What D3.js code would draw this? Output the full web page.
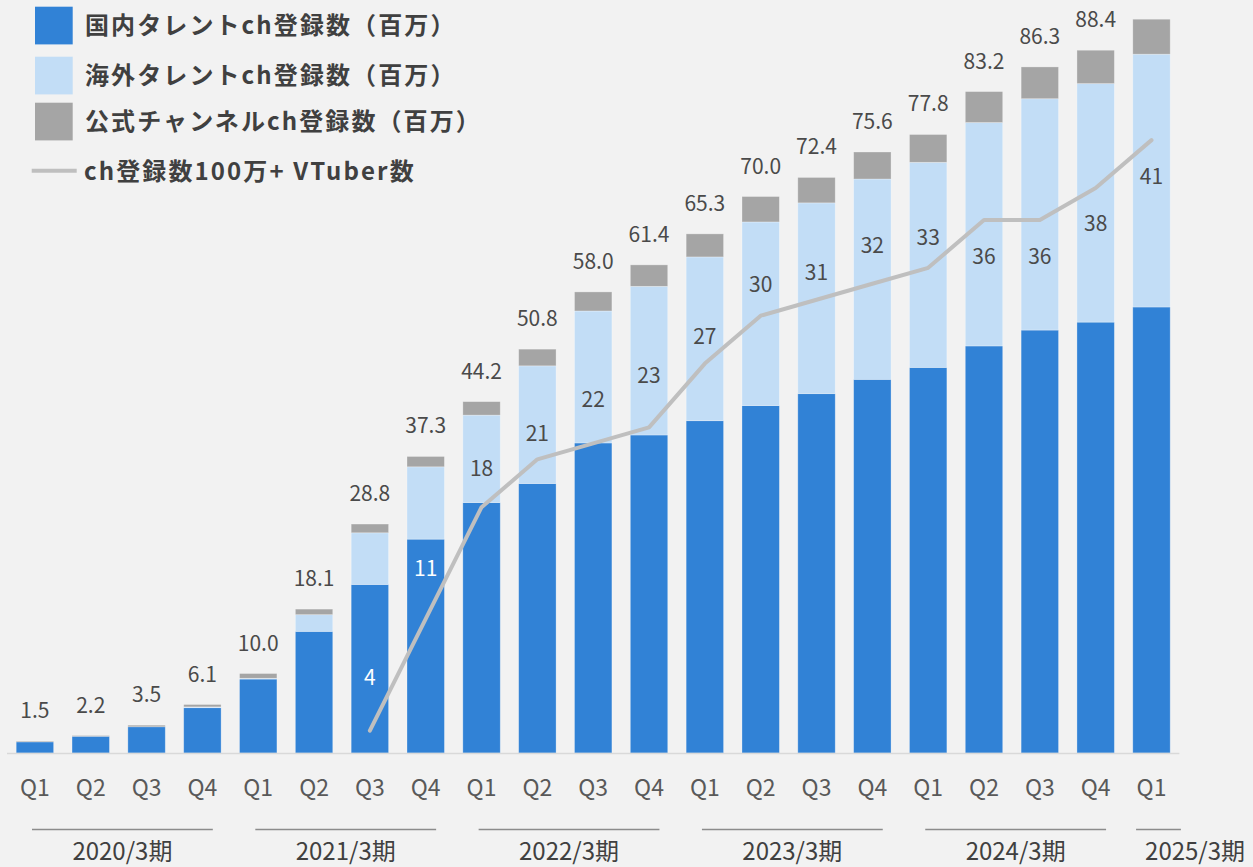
<!DOCTYPE html>
<html lang="ja">
<head>
<meta charset="utf-8">
<script src="https://cdn.jsdelivr.net/npm/d3@7"></script>
<style>
  html, body { margin: 0; padding: 0; background: #f2f2f2; }
  svg { display: block; }
  .num { font-family: "Noto Sans CJK JP", "Noto Sans", sans-serif; fill: #4a4a4a; }
  .legend { font-family: "Noto Sans CJK JP", "Noto Sans", sans-serif; font-weight: 700; fill: #404040; letter-spacing: 2.1px; }
</style>
</head>
<body>
<svg id="chart" width="1253" height="867"></svg>
<script>
// Quarterly subscriber data (millions) and 1M+ VTuber counts
const quarters = ["Q1","Q2","Q3","Q4","Q1","Q2","Q3","Q4","Q1","Q2","Q3","Q4",
                  "Q1","Q2","Q3","Q4","Q1","Q2","Q3","Q4","Q1"];
const fiscalYears = ["2020/3期","2021/3期","2022/3期","2023/3期","2024/3期","2025/3期"];
const domestic = [1.4, 2.1, 3.3, 5.7, 9.3, 15.3, 21.2, 26.9, 31.5, 33.9, 39.0, 40.0,
                  41.8, 43.7, 45.2, 47.0, 48.5, 51.2, 53.2, 54.2, 56.1];
const overseas = [0.0, 0.0, 0.0, 0.1, 0.1, 2.1, 6.5, 9.1, 11.0, 14.8, 16.6, 18.7,
                  20.6, 23.1, 24.0, 25.2, 25.8, 28.1, 29.1, 30.0, 31.8];
const official = [0.1, 0.1, 0.2, 0.3, 0.6, 0.7, 1.1, 1.3, 1.7, 2.1, 2.4, 2.7,
                  2.9, 3.2, 3.2, 3.4, 3.5, 3.9, 4.0, 4.2, 4.4];
const totalLabels = ["1.5","2.2","3.5","6.1","10.0","18.1","28.8","37.3","44.2","50.8","58.0","61.4",
                     "65.3","70.0","72.4","75.6","77.8","83.2","86.3","88.4",""];
// VTuber count starts at the 2021/3 Q3 quarter (index 6)
const vtuberStart = 6;
const vtubers = [4, 11, 18, 21, 22, 23, 27, 30, 31, 32, 33, 36, 36, 38, 41];
const seriesNames = ["国内タレントch登録数（百万）","海外タレントch登録数（百万）","公式チャンネルch登録数（百万）"];
const lineName = "ch登録数100万+ VTuber数";

// Layout: vertical nudges for the VTuber count labels (px from the line point)
const countLabelDy = [-53, -51, -39, -26, -44, -52, -27, -31, -27, -38, -30, 36, 36, 35, 36];

const colors = { domestic: "#3182d6", overseas: "#c2ddf6", official: "#a5a5a5", line: "#bfbfbf" };

const svg = d3.select("#chart");
const idx = d3.range(quarters.length);

const x = d3.scaleBand().domain(idx).range([7, 1179.4]).paddingInner(0.33).paddingOuter(0.165);
const y = d3.scaleLinear().domain([0, 100]).range([753, -42]);
const yLine = d3.scaleLinear().domain([0, 50]).range([794.5, -3.5]);

const rows = idx.map(i => ({ i, domestic: domestic[i], overseas: overseas[i], official: official[i] }));
const keys = ["domestic", "overseas", "official"];
const stacked = d3.stack().keys(keys)(rows);

// Stacked bars
const layers = svg.append("g").selectAll("g").data(stacked).join("g")
  .attr("fill", d => colors[d.key]);
layers.selectAll("rect").data(d => d).join("rect")
  .attr("x", d => x(d.data.i))
  .attr("width", x.bandwidth())
  .attr("y", d => y(d[1]))
  .attr("height", d => Math.max(0, y(d[0]) - y(d[1])))
  .attr("stroke", "rgba(255,255,255,0.35)")
  .attr("stroke-width", 0.8);

// Baseline
svg.append("line")
  .attr("x1", x.range()[0]).attr("x2", x.range()[1])
  .attr("y1", y(0) + 0.5).attr("y2", y(0) + 0.5)
  .attr("stroke", "#d9d9d9").attr("stroke-width", 1.5);

// Total labels above bars
svg.append("g").selectAll("text").data(idx).join("text")
  .attr("class", "num")
  .attr("x", i => x(i) + x.bandwidth() / 2)
  .attr("y", i => y(domestic[i] + overseas[i] + official[i]) - 23)
  .attr("text-anchor", "middle")
  .attr("font-size", 21)
  .text(i => totalLabels[i]);

// VTuber count line
const linePts = vtubers.map((v, k) => ({ i: k + vtuberStart, v, k }));
svg.append("path")
  .datum(linePts)
  .attr("fill", "none")
  .attr("stroke", colors.line)
  .attr("stroke-width", 4)
  .attr("stroke-linejoin", "round")
  .attr("stroke-linecap", "round")
  .attr("d", d3.line().x(d => x(d.i) + x.bandwidth() / 2).y(d => yLine(d.v)));

svg.append("g").selectAll("text").data(linePts).join("text")
  .attr("class", "num")
  .attr("x", d => x(d.i) + x.bandwidth() / 2)
  .attr("y", d => yLine(d.v) + countLabelDy[d.k])
  .attr("dy", "0.36em")
  .attr("text-anchor", "middle")
  .attr("font-size", 21)
  .style("fill", d => d.k < 2 ? "#ffffff" : "#4a4a4a")
  .text(d => d.v);

// Quarter axis
const xAxis = d3.axisBottom(x).tickFormat(i => quarters[i]).tickSize(0).tickPadding(0);
const axisG = svg.append("g").attr("transform", `translate(0, ${y(0)})`).call(xAxis);
axisG.select(".domain").remove();
axisG.selectAll("text")
  .attr("class", "num")
  .attr("y", 35)
  .attr("dy", "0.36em")
  .attr("font-size", 23)
  .style("fill", "#595959");

// Fiscal year grouping
const groups = fiscalYears.map((label, g) => {
  const first = g * 4;
  const last = Math.min(first + 3, quarters.length - 1);
  return { label, first, last, full: last - first === 3 };
});
const step = x.step();
const yearG = svg.append("g");
groups.forEach(gr => {
  const bandStart = x(gr.first) - step * x.paddingInner() / 2;
  const bandEnd = x(gr.last) + x.bandwidth() + step * x.paddingInner() / 2;
  const x1 = gr.full ? bandStart + 25 : bandStart + 12.5;
  const x2 = gr.full ? bandEnd - 17.5 : bandEnd + 1.5;
  yearG.append("line")
    .attr("x1", x1).attr("x2", x2)
    .attr("y1", 829.5).attr("y2", 829.5)
    .attr("stroke", "#8c8c8c").attr("stroke-width", 1.5);
  yearG.append("text")
    .attr("class", "num")
    .attr("x", gr.full ? (x1 + x2) / 2 : x1 + 9)
    .attr("y", 860)
    .attr("text-anchor", gr.full ? "middle" : "start")
    .attr("font-size", 24)
    .style("fill", "#404040")
    .text(gr.label);
});

// Legend
const legend = svg.append("g");
const swatchY = [6.7, 56.7, 102.7];
keys.forEach((k, j) => {
  legend.append("rect")
    .attr("x", 35).attr("y", swatchY[j])
    .attr("width", 37.7).attr("height", 37.7)
    .attr("fill", colors[k]);
  legend.append("text")
    .attr("class", "legend")
    .attr("x", 85).attr("y", swatchY[j] + 18.8)
    .attr("dy", "0.36em")
    .attr("font-size", 24)
    .text(seriesNames[j]);
});
legend.append("line")
  .attr("x1", 31.7).attr("x2", 76.7)
  .attr("y1", 170.7).attr("y2", 170.7)
  .attr("stroke", colors.line).attr("stroke-width", 4);
legend.append("text")
  .attr("class", "legend")
  .attr("x", 84).attr("y", 171)
  .attr("dy", "0.36em")
  .attr("font-size", 24)
  .text(lineName);
</script>
</body>
</html>
